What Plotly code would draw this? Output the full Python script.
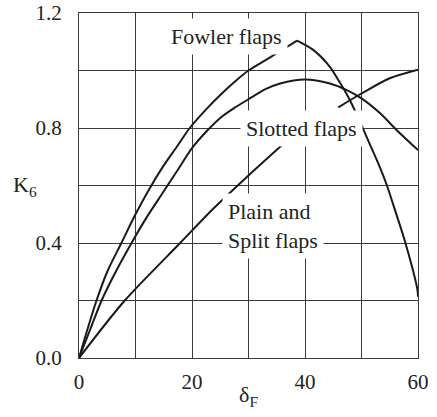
import plotly.graph_objects as go

# Data
fowler_up_x = [0, 1.5, 3.1, 5, 7.5, 10, 12.5, 15, 17.5, 19.6, 22.5, 25, 27.5, 30, 32.5, 35, 38.6]
fowler_up_y = [0, 0.1, 0.2, 0.3, 0.4, 0.5, 0.59, 0.67, 0.74, 0.8, 0.865, 0.915, 0.96, 1.0, 1.03, 1.06, 1.104]
fowler_down_x = [38.6, 41.5, 44.4, 46.2, 48, 50, 51.5, 53, 54.5, 56, 57.7, 59.9, 60]
fowler_down_y = [1.104, 1.071, 1.013, 0.957, 0.895, 0.81, 0.742, 0.675, 0.6, 0.51, 0.405, 0.237, 0.213]

slotted_x = [0, 2, 4, 6.5, 9.3, 12, 15, 17.5, 20, 22.5, 25, 27.5, 30, 33, 35.6, 40,
             44.4, 47.4, 50, 53.3, 56.2, 60]
slotted_y = [0, 0.1, 0.2, 0.3, 0.4, 0.49, 0.58, 0.655, 0.73, 0.787, 0.835, 0.87, 0.9, 0.935, 0.955, 0.969,
             0.955, 0.932, 0.903, 0.851, 0.793, 0.723]

slotted_ext_x = [45.9, 50, 55, 60]
slotted_ext_y = [0.872, 0.92, 0.973, 1.003]

plain_x = [0, 8.1, 17.9, 23.8, 30, 35.9]
plain_y = [0, 0.2, 0.4, 0.52, 0.635, 0.74]

x_ticks = [0, 20, 40, 60]
y_ticks = [0.0, 0.4, 0.8, 1.2]

FONT = "Liberation Serif, Times New Roman, serif"
LINE = dict(color="#1a1a1a", width=2, shape="spline", smoothing=0.8)
GRID = "#3a3a3a"

fig = go.Figure()
for xs, ys in [(fowler_up_x, fowler_up_y), (fowler_down_x, fowler_down_y),
               (slotted_x, slotted_y), (slotted_ext_x, slotted_ext_y),
               (plain_x, plain_y)]:
    fig.add_trace(go.Scatter(x=xs, y=ys, mode="lines", line=LINE,
                             showlegend=False, hoverinfo="skip"))

fig.update_xaxes(range=[0, 60], tickvals=x_ticks, ticktext=[str(v) for v in x_ticks],
                 showgrid=True, gridcolor=GRID, gridwidth=1,
                 minor=dict(dtick=10, showgrid=True, gridcolor=GRID, gridwidth=1),
                 showline=True, linecolor=GRID, linewidth=1, mirror=True,
                 zeroline=False, ticks="", ticklabelstandoff=5, automargin=False,
                 tickfont=dict(family=FONT, size=21, color="#222"))
fig.update_yaxes(range=[0, 1.2], tickvals=y_ticks, ticktext=[f"{v:.1f}" for v in y_ticks],
                 showgrid=True, gridcolor=GRID, gridwidth=1,
                 minor=dict(dtick=0.2, showgrid=True, gridcolor=GRID, gridwidth=1),
                 showline=True, linecolor=GRID, linewidth=1, mirror=True,
                 zeroline=False, ticks="", ticklabelstandoff=12, automargin=False,
                 tickfont=dict(family=FONT, size=21, color="#222"))

ann_font = dict(family=FONT, size=22, color="#222")
fig.add_annotation(x=26.1, y=1.118, text="Fowler flaps", showarrow=False,
                   xanchor="center", yanchor="middle",
                   font=ann_font, bgcolor="white", borderpad=5)
fig.add_annotation(x=39.3, y=0.8, text="Slotted flaps", showarrow=False,
                   xanchor="center", yanchor="middle",
                   font=ann_font, bgcolor="white", borderpad=5)
fig.add_annotation(x=34.3, y=0.46, text="Plain and<br>Split flaps", showarrow=False,
                   xanchor="center", yanchor="middle",
                   align="left", font=ann_font, bgcolor="white", borderpad=5)
fig.add_annotation(xref="paper", x=-0.159, y=0.6, text="K<sub>6</sub>", showarrow=False,
                   xanchor="center", yanchor="middle", font=ann_font)
fig.add_annotation(x=30, yref="paper", y=-0.11, text="δ<sub>F</sub>", showarrow=False,
                   xanchor="center", yanchor="middle", font=ann_font)

fig.update_layout(width=437, height=417, margin=dict(l=79, r=19, t=13, b=59),
                  plot_bgcolor="white", paper_bgcolor="white",
                  font=dict(family=FONT))

fig.write_html("out.html", config={"displayModeBar": False},
               post_script="document.body.style.margin='0';document.body.style.padding='0';")
